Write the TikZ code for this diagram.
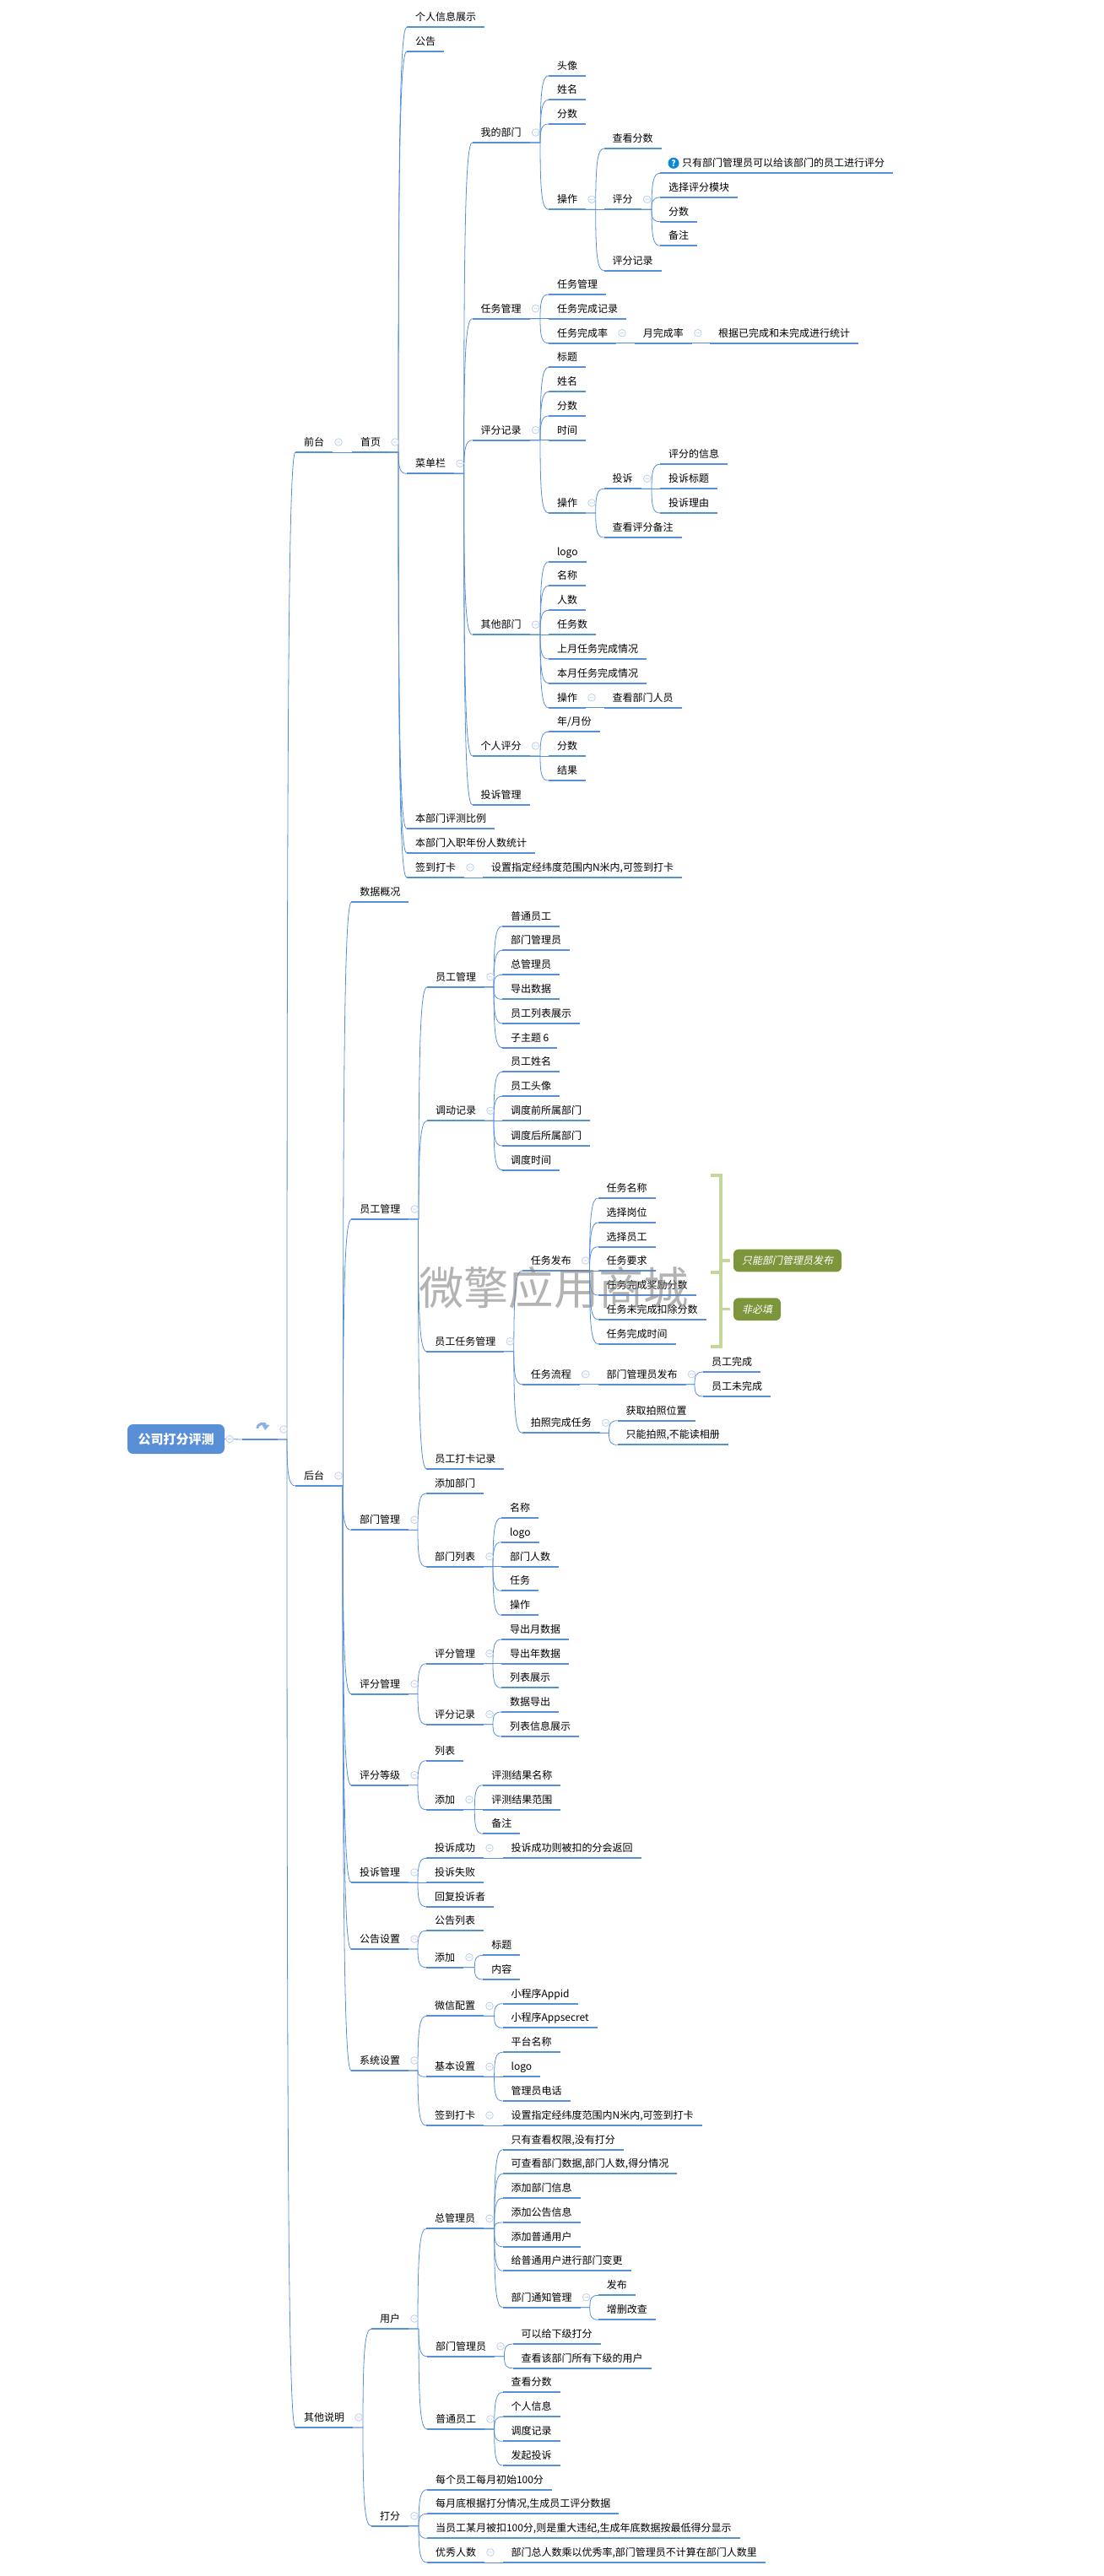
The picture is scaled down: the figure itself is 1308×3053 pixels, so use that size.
\documentclass[tikz,border=0pt]{standalone}
\usepackage{fontspec}
\setmainfont{Noto Sans CJK SC}
\newfontfamily\slantfont[FakeSlant=0.2]{Noto Sans CJK SC}
\usetikzlibrary{calc,arrows.meta}

\definecolor{linkblue}{RGB}{88,143,214}
\definecolor{foldblue}{RGB}{190,206,236}
\definecolor{bracegreen}{RGB}{197,214,155}
\definecolor{calloutgreen}{RGB}{125,150,60}

\tikzset{
  topic/.style={anchor=south west, font=\fontsize{9}{9}\selectfont, inner xsep=7.5pt, inner ysep=3.6pt, outer sep=0pt,
    text height=7.5pt, text depth=2pt,
    append after command={(\tikzlastnode.south west) edge[underline] (\tikzlastnode.south east)}},
  underline/.style={draw=linkblue, line width=1.7pt},
  branch/.style={draw=linkblue, line width=0.6pt, to path={let \p1=(\tikztostart), \p2=(\tikztotarget) in
    -- (\x2-7.5pt,\y1) .. controls (\x2-7.5pt,{\y1+(\y2-\y1)*0.75}) and (\x2-6pt,\y2) .. (\tikztotarget)}},
  fold/.style={draw=foldblue, line width=0.6pt, fill=white},
  callout/.style={fill=calloutgreen, rounded corners=4.5pt, text=white, font=\slantfont\fontsize{9}{9}\selectfont, minimum height=20pt, inner xsep=7.5pt, inner ysep=0pt, outer sep=0pt},
  brace/.style={draw=bracegreen, line width=2.3pt}
}

\begin{document}
\begin{tikzpicture}[x=0.75pt,y=-0.75pt]
    \useasboundingbox (0,0) rectangle (1308,3053);

    % Root with its blank topic
    \node[fill=linkblue, rounded corners=5pt, text=white, font=\bfseries\fontsize{11.25}{11.25}\selectfont, minimum width=86.25pt, minimum height=26.25pt, inner sep=0pt, outer sep=0pt] (root) at (208.5,1705.5) {公司打分评测};
    \node[topic, minimum width=31.5pt] (blank) at (287,1706) {};
    \draw[linkblue, line width=0.6pt] (root.east) -- (blank.south west);
    \draw[fold] ($(root.east)+(6,0)$) circle (4.3) +(-2.3,0) -- +(2.3,0);
    \draw[line width=2.2pt, draw=linkblue!70, -{Triangle[length=5pt,width=7pt]}] (305,1693) .. controls (305,1686) and (315,1686) .. (314,1695);

    % Front end
    \node[topic] (front) at (350,536) {前台};
    \node[topic] (home) at (417,536) {首页};
    \node[topic] (profile) at (482,32.3) {个人信息展示};
    \node[topic] (notice) at (482,61) {公告};
    \node[topic] (menu) at (482,561.3) {菜单栏};
    \node[topic] (ratio) at (482,982.3) {本部门评测比例};
    \node[topic] (entry) at (482,1011) {本部门入职年份人数统计};
    \node[topic] (sign) at (482,1040) {签到打卡};
    \node[topic] (signnote) at (572,1040) {设置指定经纬度范围内N米内,可签到打卡};

    % My department
    \node[topic] (mydept) at (559.6,169) {我的部门};
    \node[topic] (myavatar) at (650,89.7) {头像};
    \node[topic] (myname) at (650,118.3) {姓名};
    \node[topic] (myscore) at (650,147) {分数};
    \node[topic] (myop) at (650,248.3) {操作};
    \node[topic] (viewscore) at (715.7,176) {查看分数};
    \node[topic] (rate) at (715.7,248.3) {评分};
    \node[topic] (ratetip) at (782,205.3) {\hspace{12pt}只有部门管理员可以给该部门的员工进行评分};
    \node[circle, fill=cyan!70!blue, text=white, font=\bfseries\fontsize{7.5}{7.5}\selectfont, minimum size=9.8pt, inner sep=0pt] (tipmark) at ($(ratetip.south west)+(16,-12)$) {?};
    \node[topic] (ratemodule) at (782,234) {选择评分模块};
    \node[topic] (ratescore) at (782,262.7) {分数};
    \node[topic] (ratenote) at (782,291.3) {备注};
    \node[topic] (raterecord) at (715.7,320.7) {评分记录};

    % Task management
    \node[topic] (task) at (559.6,377.7) {任务管理};
    \node[topic] (taskmgr) at (650,349) {任务管理};
    \node[topic] (taskdone) at (650,377.7) {任务完成记录};
    \node[topic] (taskrate) at (650,406.7) {任务完成率};
    \node[topic] (monthrate) at (751.8,406.7) {月完成率};
    \node[topic] (monthstat) at (841,406.7) {根据已完成和未完成进行统计};

    % Score records
    \node[topic] (record) at (559.6,521.7) {评分记录};
    \node[topic] (rectitle) at (650,435.3) {标题};
    \node[topic] (recname) at (650,464.3) {姓名};
    \node[topic] (recscore) at (650,493) {分数};
    \node[topic] (rectime) at (650,521.7) {时间};
    \node[topic] (recop) at (650,608) {操作};
    \node[topic] (complain) at (715.7,579.3) {投诉};
    \node[topic] (cinfo) at (782,550.3) {评分的信息};
    \node[topic] (ctitle) at (782,579.3) {投诉标题};
    \node[topic] (creason) at (782,608) {投诉理由};
    \node[topic] (recnote) at (715.7,637) {查看评分备注};

    % Other departments
    \node[topic] (other) at (559.6,752.3) {其他部门};
    \node[topic] (otlogo) at (650,665.7) {logo};
    \node[topic] (otname) at (650,694.3) {名称};
    \node[topic] (otcount) at (650,723.3) {人数};
    \node[topic] (ottask) at (650,752.3) {任务数};
    \node[topic] (otlast) at (650,781) {上月任务完成情况};
    \node[topic] (otthis) at (650,809.7) {本月任务完成情况};
    \node[topic] (otop) at (650,838.7) {操作};
    \node[topic] (otstaff) at (715.7,838.7) {查看部门人员};

    % Personal score
    \node[topic] (personal) at (559.6,896) {个人评分};
    \node[topic] (pmonth) at (650,867.3) {年/月份};
    \node[topic] (pscore) at (650,896) {分数};
    \node[topic] (presult) at (650,925) {结果};
    \node[topic] (menucomplain) at (559.6,953.7) {投诉管理};

    % Back end
    \node[topic] (back) at (350,1761) {后台};
    \node[topic] (overview) at (416.4,1069.3) {数据概况};
    \node[topic] (staff) at (416.4,1445) {员工管理};
    \node[topic] (staffmgr) at (506,1169.7) {员工管理};
    \node[topic] (stnormal) at (595,1097.7) {普通员工};
    \node[topic] (stdept) at (595,1126.3) {部门管理员};
    \node[topic] (sttop) at (595,1155.3) {总管理员};
    \node[topic] (stexport) at (595,1184.3) {导出数据};
    \node[topic] (stlist) at (595,1213) {员工列表展示};
    \node[topic] (stsub) at (595,1241.7) {子主题 6};
    \node[topic] (transfer) at (506,1328.3) {调动记录};
    \node[topic] (trname) at (595,1270.3) {员工姓名};
    \node[topic] (travatar) at (595,1299.3) {员工头像};
    \node[topic] (trbefore) at (595,1328.3) {调度前所属部门};
    \node[topic] (trafter) at (595,1358) {调度后所属部门};
    \node[topic] (trtime) at (595,1386.7) {调度时间};
    \node[topic] (sttask) at (505.4,1601.7) {员工任务管理};
    \node[topic] (publish) at (618.8,1506) {任务发布};
    \node[topic] (pubname) at (708.5,1420) {任务名称};
    \node[topic] (pubpost) at (708.5,1449) {选择岗位};
    \node[topic] (pubstaff) at (708.5,1477.7) {选择员工};
    \node[topic] (pubneed) at (708.5,1506) {任务要求};
    \node[topic] (pubbonus) at (708.5,1535) {任务完成奖励分数};
    \node[topic] (pubfine) at (708.5,1563.7) {任务未完成扣除分数};
    \node[topic] (pubtime) at (708.5,1592.7) {任务完成时间};
    \node[topic] (flow) at (618.8,1640.7) {任务流程};
    \node[topic] (flowpub) at (708.5,1640.7) {部门管理员发布};
    \node[topic] (flowdone) at (833,1626) {员工完成};
    \node[topic] (flowmiss) at (833,1655) {员工未完成};
    \node[topic] (photo) at (618.8,1698.3) {拍照完成任务};
    \node[topic] (photopos) at (731.5,1683.7) {获取拍照位置};
    \node[topic] (photoonly) at (731.5,1712.3) {只能拍照,不能读相册};
    \node[topic] (clock) at (505.4,1741) {员工打卡记录};

    % Required and optional fields
    \draw[brace] (842,1393) -| (854,1508) -- (842,1508);
    \draw[brace] (842,1508) -| (854,1596) -- (842,1596);
    \coordinate (bracemust) at (854,1494);
    \coordinate (braceopt) at (854,1551.7);
    \node[callout, anchor=west] (must) at (869,1494) {只能部门管理员发布};
    \node[callout, anchor=west] (optional) at (869,1551.7) {非必填};
    \draw[brace, shorten >=3pt] (bracemust) -- (must.west);
    \draw[brace, shorten >=3pt] (braceopt) -- (optional.west);

    % Department management
    \node[topic] (dept) at (416,1813.3) {部门管理};
    \node[topic] (deptadd) at (505,1770) {添加部门};
    \node[topic] (deptlist) at (505,1856.7) {部门列表};
    \node[topic] (dlname) at (594,1799) {名称};
    \node[topic] (dllogo) at (594,1827.7) {logo};
    \node[topic] (dlcount) at (594,1856.7) {部门人数};
    \node[topic] (dltask) at (594,1885.3) {任务};
    \node[topic] (dlop) at (594,1914.3) {操作};

    % Score management
    \node[topic] (score) at (416,2007.7) {评分管理};
    \node[topic] (scoremgr) at (505,1971.7) {评分管理};
    \node[topic] (smmonth) at (594,1943) {导出月数据};
    \node[topic] (smyear) at (594,1971.7) {导出年数据};
    \node[topic] (smlist) at (594,2000.3) {列表展示};
    \node[topic] (scorerec) at (505,2043.7) {评分记录};
    \node[topic] (srexport) at (594,2029) {数据导出};
    \node[topic] (srlist) at (594,2058) {列表信息展示};

    % Score levels
    \node[topic] (level) at (416,2115.7) {评分等级};
    \node[topic] (lvlist) at (505,2086.7) {列表};
    \node[topic] (lvadd) at (505,2144.7) {添加};
    \node[topic] (lvname) at (572.3,2115.7) {评测结果名称};
    \node[topic] (lvrange) at (572.3,2144.7) {评测结果范围};
    \node[topic] (lvnote) at (572.3,2173.3) {备注};

    % Complaints
    \node[topic] (backcomplain) at (416,2231) {投诉管理};
    \node[topic] (bcok) at (505,2202.3) {投诉成功};
    \node[topic] (bcback) at (595.6,2202.3) {投诉成功则被扣的分会返回};
    \node[topic] (bcfail) at (505,2231) {投诉失败};
    \node[topic] (bcreply) at (505,2259.7) {回复投诉者};

    % Notices
    \node[topic] (notset) at (416,2310) {公告设置};
    \node[topic] (notlist) at (505,2288.3) {公告列表};
    \node[topic] (notadd) at (505,2331.7) {添加};
    \node[topic] (nottitle) at (572.3,2317.3) {标题};
    \node[topic] (notbody) at (572.3,2346) {内容};

    % System settings
    \node[topic] (system) at (416,2454) {系统设置};
    \node[topic] (wechat) at (505,2389.3) {微信配置};
    \node[topic] (appid) at (595.6,2374.7) {小程序Appid};
    \node[topic] (appsecret) at (595.6,2403.3) {小程序Appsecret};
    \node[topic] (basic) at (505,2461.3) {基本设置};
    \node[topic] (platname) at (595.6,2432.3) {平台名称};
    \node[topic] (platlogo) at (595.6,2461.3) {logo};
    \node[topic] (plattel) at (595.6,2490) {管理员电话};
    \node[topic] (syssign) at (505,2519) {签到打卡};
    \node[topic] (syssignnote) at (595.6,2519) {设置指定经纬度范围内N米内,可签到打卡};

    % Other notes
    \node[topic] (notes) at (350,2877) {其他说明};
    \node[topic] (users) at (440,2760) {用户};
    \node[topic] (topadmin) at (505,2641.3) {总管理员};
    \node[topic] (taview) at (595.6,2547.7) {只有查看权限,没有打分};
    \node[topic] (tadata) at (595.6,2576.3) {可查看部门数据,部门人数,得分情况};
    \node[topic] (tadept) at (595.6,2605.3) {添加部门信息};
    \node[topic] (tanotice) at (595.6,2634) {添加公告信息};
    \node[topic] (tauser) at (595.6,2662.7) {添加普通用户};
    \node[topic] (tamove) at (595.6,2691.3) {给普通用户进行部门变更};
    \node[topic] (tainform) at (595.6,2734.7) {部门通知管理};
    \node[topic] (tipub) at (708.8,2720.3) {发布};
    \node[topic] (tiedit) at (708.8,2749.3) {增删改查};
    \node[topic] (deptadmin) at (506,2792.7) {部门管理员};
    \node[topic] (darate) at (607.5,2778) {可以给下级打分};
    \node[topic] (daview) at (607.5,2806.7) {查看该部门所有下级的用户};
    \node[topic] (normal) at (506,2879) {普通员工};
    \node[topic] (nmscore) at (595.6,2835.3) {查看分数};
    \node[topic] (nminfo) at (595.6,2864.3) {个人信息};
    \node[topic] (nmmove) at (595.6,2893.3) {调度记录};
    \node[topic] (nmcomp) at (595.6,2922) {发起投诉};
    \node[topic] (marking) at (440,2993.7) {打分};
    \node[topic] (mkinit) at (506,2950.7) {每个员工每月初始100分};
    \node[topic] (mkend) at (506,2979.3) {每月底根据打分情况,生成员工评分数据};
    \node[topic] (mkzero) at (506,3008.3) {当员工某月被扣100分,则是重大违纪,生成年底数据按最低得分显示};
    \node[topic] (mkbest) at (506,3037) {优秀人数};
    \node[topic] (mkcount) at (595.6,3037) {部门总人数乘以优秀率,部门管理员不计算在部门人数里};

    % Connect every parent with its children
    \foreach \pa/\kids in {
        blank/{front,back,notes},
        front/{home},
        home/{profile,notice,menu,ratio,entry,sign},
        sign/{signnote},
        menu/{mydept,task,record,other,personal,menucomplain},
        mydept/{myavatar,myname,myscore,myop},
        myop/{viewscore,rate,raterecord},
        rate/{ratetip,ratemodule,ratescore,ratenote},
        task/{taskmgr,taskdone,taskrate},
        taskrate/{monthrate},
        monthrate/{monthstat},
        record/{rectitle,recname,recscore,rectime,recop},
        recop/{complain,recnote},
        complain/{cinfo,ctitle,creason},
        other/{otlogo,otname,otcount,ottask,otlast,otthis,otop},
        otop/{otstaff},
        personal/{pmonth,pscore,presult},
        back/{overview,staff,dept,score,level,backcomplain,notset,system},
        staff/{staffmgr,transfer,sttask,clock},
        staffmgr/{stnormal,stdept,sttop,stexport,stlist,stsub},
        transfer/{trname,travatar,trbefore,trafter,trtime},
        sttask/{publish,flow,photo},
        publish/{pubname,pubpost,pubstaff,pubneed,pubbonus,pubfine,pubtime},
        flow/{flowpub},
        flowpub/{flowdone,flowmiss},
        photo/{photopos,photoonly},
        dept/{deptadd,deptlist},
        deptlist/{dlname,dllogo,dlcount,dltask,dlop},
        score/{scoremgr,scorerec},
        scoremgr/{smmonth,smyear,smlist},
        scorerec/{srexport,srlist},
        level/{lvlist,lvadd},
        lvadd/{lvname,lvrange,lvnote},
        backcomplain/{bcok,bcfail,bcreply},
        bcok/{bcback},
        notset/{notlist,notadd},
        notadd/{nottitle,notbody},
        system/{wechat,basic,syssign},
        wechat/{appid,appsecret},
        basic/{platname,platlogo,plattel},
        syssign/{syssignnote},
        notes/{users,marking},
        users/{topadmin,deptadmin,normal},
        topadmin/{taview,tadata,tadept,tanotice,tauser,tamove,tainform},
        tainform/{tipub,tiedit},
        deptadmin/{darate,daview},
        normal/{nmscore,nminfo,nmmove,nmcomp},
        marking/{mkinit,mkend,mkzero,mkbest},
        mkbest/{mkcount}} {
        \foreach \ch in \kids {
            \draw[branch] (\pa.south east) to (\ch.south west);
        }
        \draw[fold] ($(\pa.south east)+(7,-12)$) circle (4.3) +(-2.3,0) -- +(2.3,0);
    }

    % Watermark on top
    \node[text=gray, opacity=0.6, font=\fontsize{40}{40}\selectfont, inner sep=0pt] (mark) at (656,1526) {微擎应用商城};
\end{tikzpicture}
\end{document}
